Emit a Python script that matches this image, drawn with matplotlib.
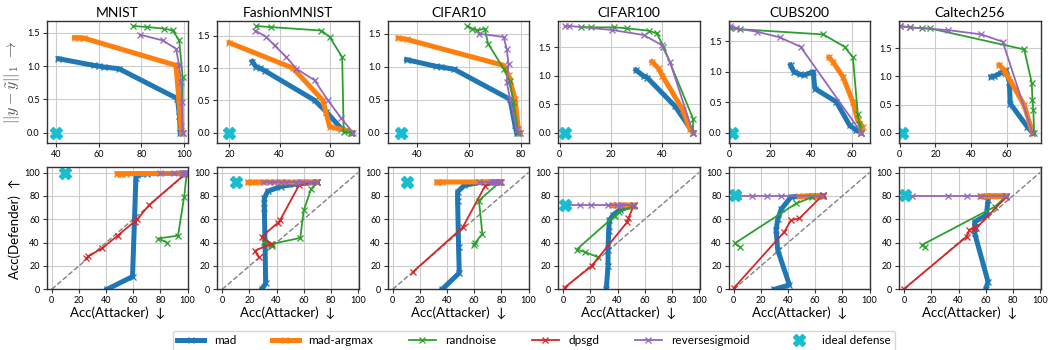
import matplotlib
matplotlib.use('Agg')
import matplotlib.pyplot as plt

plt.rcParams['font.family'] = ['Lato', 'DejaVu Sans']
plt.rcParams['mathtext.fontset'] = 'cm'

datasets = ['MNIST', 'FashionMNIST', 'CIFAR10', 'CIFAR100', 'CUBS200', 'Caltech256']
methods = ['mad', 'mad-argmax', 'randnoise', 'dpsgd', 'reversesigmoid']

# top row: attacker accuracy vs L1 perturbation  (x list, y list)
mnist_top = {
    'mad': ([41.3, 57.7, 60, 62.4, 69.5, 96.9, 97.8, 98.2], [1.11, 1.01, 1.0, 0.985, 0.96, 0.51, 0.25, 0.0]),
    'mad-argmax': ([48.8, 50.5, 53, 96.2, 97.5, 98.5, 98.8], [1.425, 1.425, 1.42, 1.01, 0.51, 0.1, 0.0]),
    'randnoise': ([76.2, 82.8, 90.7, 94.6, 97.7, 99.3, 99.3], [1.60, 1.585, 1.56, 1.535, 1.385, 0.835, 0.0]),
    'reversesigmoid': ([79.4, 89.9, 96.2, 97.7, 98.5, 99.0, 99.3], [1.47, 1.385, 1.26, 1.01, 0.76, 0.46, 0.0]),
}
fashion_top = {
    'mad': ([29.1, 30.7, 32, 34, 54, 58.7, 64.7, 68.7], [1.10, 1.015, 1.0, 0.96, 0.5, 0.32, 0.06, 0.0]),
    'mad-argmax': ([20, 45.3, 57.3, 60, 66.7, 68.7], [1.39, 1.0, 0.5, 0.09, 0.035, 0.0]),
    'randnoise': ([30.7, 36.4, 56.7, 60, 65, 65.6, 68.7], [1.65, 1.634, 1.58, 1.48, 1.17, 0.01, 0.0]),
    'reversesigmoid': ([30.3, 34.7, 38, 42.7, 46.7, 54, 59.3, 64.7, 69.3], [1.58, 1.48, 1.35, 1.17, 0.99, 0.81, 0.5, 0.22, 0.0]),
}
cifar10_top = {
    'mad': ([35.8, 47.2, 49.1, 54.2, 75.8, 77.7, 78.3], [1.106, 1.005, 0.995, 0.96, 0.505, 0.11, 0.0]),
    'mad-argmax': ([32.6, 35.8, 73.3, 75.2, 77.7, 79.0, 79.6], [1.434, 1.414, 1.02, 0.87, 0.515, 0.06, 0.0]),
    'randnoise': ([59.3, 61.2, 63.1, 66, 67.3, 73.3, 75.6, 77.1, 79], [1.616, 1.576, 1.55, 1.576, 1.35, 0.97, 0.79, 0.465, 0.0]),
    'reversesigmoid': ([63.7, 73.3, 74.5, 75.2, 74.5, 75.8, 78.3, 79.6], [1.5, 1.45, 1.27, 1.045, 0.77, 0.515, 0.06, 0.0]),
}
cifar100_top = {
    'mad': ([29.7, 32.7, 34, 44.9, 51.9], [1.1, 0.994, 0.97, 0.465, 0.0]),
    'mad-argmax': ([35.9, 38.5, 40, 48, 50.6, 51.9], [1.247, 1.13, 1.0, 0.394, 0.07, 0.0]),
    'randnoise': ([8.3, 12.2, 21.2, 26.3, 34.6, 37.8, 40.4, 51.9, 51.9], [1.86, 1.853, 1.853, 1.835, 1.794, 1.747, 1.512, 0.247, 0.0]),
    'reversesigmoid': ([1.9, 3.8, 20.5, 32.7, 39.7, 42.9, 51.9], [1.876, 1.876, 1.806, 1.718, 1.541, 1.247, 0.0]),
}
cubs_top = {
    'mad': ([29.9, 31.5, 34.5, 36.4, 41, 41.8, 52.4, 58.9, 62.1, 64.6], [1.11, 1.0, 0.96, 0.945, 1.0, 0.725, 0.505, 0.12, 0.04, 0.0]),
    'mad-argmax': ([48.8, 50.7, 55.6, 60.5, 62.9, 65.4, 64.6], [1.236, 1.165, 0.918, 0.505, 0.2, 0.09, 0.0]),
    'randnoise': ([0.3, 5.2, 45.9, 56.4, 60.5, 62.9, 63.7, 64.6], [1.714, 1.70, 1.615, 1.412, 1.236, 0.313, 0.15, 0.0]),
    'reversesigmoid': ([0.3, 3.3, 13.3, 24.7, 34.8, 64.6], [1.753, 1.714, 1.66, 1.566, 1.412, 0.0]),
}
caltech_top = {
    'mad': ([51.1, 52.9, 56.6, 59.4, 61.3, 61.8, 71.4, 74.2], [0.994, 1.006, 1.065, 1.113, 0.905, 0.518, 0.1, 0.0]),
    'mad-argmax': ([55.7, 58.5, 69.6, 74.2], [1.202, 1.113, 0.488, 0.0]),
    'randnoise': ([0.4, 5.9, 12.4, 17, 69.6, 73.8, 74.2, 74.7, 75.1], [1.899, 1.875, 1.857, 1.857, 1.482, 0.887, 0.577, 0.4, 0.0]),
    'reversesigmoid': ([0.4, 5.9, 27.1, 45.6, 57.6, 74.2], [1.899, 1.875, 1.827, 1.75, 1.619, 0.0]),
}

# bottom row: attacker accuracy vs defender accuracy
mnist_bot = {
    'mad': ([40.75, 59.5, 62, 63, 70, 97, 98.5], [0, 10.9, 95, 98, 99, 99.3, 99.4]),
    'mad-argmax': ([48.3, 50, 52, 55, 96, 98, 98.8], [99, 99, 99, 99.1, 99.3, 99.4, 99.4]),
    'randnoise': ([85, 78.5, 93, 97.5, 99.4], [40, 43.5, 46, 79, 99]),
    'dpsgd': ([25.5, 27, 37, 48.5, 61, 63, 72, 98.5], [26.5, 28.5, 35, 46, 58, 60, 72.5, 99]),
    'reversesigmoid': ([79.5, 90, 96, 97.7, 98.5, 99, 99.3], [99.2, 99.2, 99.3, 99.3, 99.4, 99.4, 99.4]),
}
fashion_bot = {
    'mad': ([29, 32, 31.5, 31, 31, 33.5, 43, 53, 70], [0, 5, 40, 70, 78, 84, 88, 90, 91.8]),
    'mad-argmax': ([19, 21, 23, 28, 45, 57, 60, 67, 69], [91.6, 91.6, 91.7, 91.7, 91.8, 91.8, 91.8, 91.8, 91.8]),
    'randnoise': ([36.5, 31, 37, 57.5, 60, 65.5, 70], [37, 40.5, 39, 44, 67.5, 86, 91.5]),
    'dpsgd': ([27, 24, 36, 29, 41, 42.5, 56.5, 70], [27.5, 33, 39, 45, 57, 59, 89, 92]),
    'reversesigmoid': ([30, 35, 38, 43, 47, 54, 59, 65, 70], [91.8, 91.8, 91.8, 91.8, 91.8, 91.8, 91.8, 91.8, 91.8]),
}
cifar10_bot = {
    'mad': ([36.4, 49, 48.5, 47.8, 47.8, 52.7, 63.6, 78], [0, 14, 36, 76, 83.5, 89, 91.5, 92]),
    'mad-argmax': ([32.5, 34, 36, 73, 75, 77.7, 79.6], [91.8, 91.8, 91.9, 92, 92, 92, 92]),
    'randnoise': ([60.5, 59.5, 66, 63.5, 79], [39.5, 38, 47.5, 76, 92]),
    'dpsgd': ([15, 51.5, 68, 78], [15, 53, 88.5, 92]),
    'reversesigmoid': ([63.7, 73.3, 74.5, 75.2, 75.8, 78.3, 79.6], [92, 92, 92, 92, 92, 92, 92]),
}
cifar100_bot = {
    'mad': ([31.7, 33, 33, 33.5, 34, 36.6, 41.5, 51], [0, 20, 33.6, 50, 59, 63.5, 68, 71.5]),
    'mad-argmax': ([35.9, 38.5, 40, 45, 48, 50.6, 51.9], [71.8, 71.8, 71.9, 72, 72, 72, 72]),
    'randnoise': ([25.6, 15.8, 9.8, 37.8, 41, 52], [27.6, 32, 34, 62.7, 66, 71.5]),
    'dpsgd': ([1, 21, 47, 48, 52], [1.5, 20, 57.5, 61, 72]),
    'reversesigmoid': ([1.9, 3.8, 12, 20.5, 32.7, 39.7, 42.9, 51.9], [72, 72, 72, 72, 72, 72, 72, 72]),
}
cubs_bot = {
    'mad': ([30, 41, 32.4, 31.2, 32.4, 34.9, 42.2, 58, 66], [0, 3.7, 33.6, 50.7, 60, 68.4, 79.2, 80, 80]),
    'mad-argmax': ([48.3, 50.7, 55.6, 60.5, 62.9, 65.4], [80, 80, 80, 80, 80, 80]),
    'randnoise': ([4.4, 0.7, 45.9, 58, 65.4], [36.5, 39.3, 73.5, 79, 80.5]),
    'dpsgd': ([0, 37.3, 42.2, 48.3, 65.4], [1, 49.3, 59.3, 60.7, 80.5]),
    'reversesigmoid': ([0.3, 3.3, 13.3, 24.7, 34.8, 65], [80, 80, 80, 80, 80, 80]),
}
caltech_bot = {
    'mad': ([60, 61.7, 51.9, 51.9, 60.5, 61.7, 61, 75], [0, 6.6, 47.9, 57.8, 63.5, 76.3, 80, 80]),
    'mad-argmax': ([55.7, 58.5, 65, 69.6, 74.2], [80, 80, 80, 80, 80]),
    'randnoise': ([15.4, 12.9, 66.6, 75], [36.5, 37.9, 70.7, 79.5]),
    'dpsgd': ([0, 45.9, 48, 52, 53.2, 75], [0.5, 45, 51, 53, 52.5, 79]),
    'reversesigmoid': ([0.4, 5.9, 32.4, 45.9, 56.8, 75], [80, 80, 80, 80, 80, 80]),
}

ideal_top_x = [40, 20, 33.5, 1.9, 1.1, 1.3]
ideal_bot_x = [10, 10.5, 10.7, 1.2, 0.7, 0.7]
ideal_bot_y = [99.5, 91.8, 92, 72, 80.5, 80.5]

top_xlims = [(35.8, 101.9), (15.1, 71.6), (28.5, 83.2), (-0.6, 54.5), (-0.5, 69), (-0.2, 78.8)]
top_xticks = [[40, 60, 80, 100], [20, 40, 60], [40, 60, 80], [0, 20, 40], [0, 20, 40, 60], [0, 20, 40, 60]]

tops = [mnist_top, fashion_top, cifar10_top, cifar100_top, cubs_top, caltech_top]
bots = [mnist_bot, fashion_bot, cifar10_bot, cifar100_bot, cubs_bot, caltech_bot]

styles = {
    'mad': dict(color='#1f77b4', lw=3.6, marker='x', ms=4, mew=0.9),
    'mad-argmax': dict(color='#ff7f0e', lw=3.6, marker='x', ms=4, mew=0.9),
    'randnoise': dict(color='#2ca02c', lw=1.3, marker='x', ms=4.5, mew=0.9),
    'dpsgd': dict(color='#d62728', lw=1.3, marker='x', ms=4.5, mew=0.9),
    'reversesigmoid': dict(color='#9467bd', lw=1.3, marker='x', ms=4.5, mew=0.9),
}
ideal_style = dict(color='#17becf', marker='X', ms=8.5, ls='none')

W, H = 1049, 350
fig = plt.figure(figsize=(W / 100, H / 100), dpi=100)


def style_ax(ax):
    ax.grid(True, color='#cccccc', lw=0.8)
    ax.set_axisbelow(True)
    for s in ax.spines.values():
        s.set_color('#333333')
        s.set_linewidth(1.0)
    ax.tick_params(labelsize=6.5, length=3, width=0.8, color='#333333', pad=2)


left0, width, step = 46.7 / W, 141.5 / W, 170.5 / W
for c, name in enumerate(datasets):
    # top row
    ax = fig.add_axes([left0 + c * step, 1 - 143.3 / H, width, 122.6 / H])
    style_ax(ax)
    ymax = 0
    for m in methods:
        if m in tops[c]:
            x, y = tops[c][m]
            ax.plot(x, y, label=m, **styles[m])
            ymax = max(ymax, max(y))
    ax.plot([ideal_top_x[c]], [0], **ideal_style)
    ax.set_xlim(*top_xlims[c])
    ax.set_ylim(-0.1 * ymax, 1.05 * ymax)
    ax.set_xticks(top_xticks[c])
    ax.set_yticks([0.0, 0.5, 1.0, 1.5])
    ax.set_yticklabels(['0.0', '0.5', '1.0', '1.5'])
    ax.set_title(name, fontsize=10, pad=3)
    if c == 0:
        ax.set_ylabel(r'$||y - \tilde{y}||_1\ \rightarrow$', fontsize=11.5, color='#555555', labelpad=4)

    # bottom row
    ax = fig.add_axes([left0 + c * step, 1 - 289.3 / H, width, 122 / H])
    style_ax(ax)
    ax.plot([0, 100], [0, 100], color='gray', ls='--', lw=1.0, zorder=1)
    handles = []
    for m in methods:
        x, y = bots[c][m]
        h, = ax.plot(x, y, label=m, **styles[m])
        handles.append(h)
    h, = ax.plot([ideal_bot_x[c]], [ideal_bot_y[c]], label='ideal defense', **ideal_style)
    handles.append(h)
    ax.set_xlim(-3.7, 100.5)
    ax.set_ylim(0, 104.5)
    ax.set_xticks([0, 20, 40, 60, 80, 100])
    ax.set_yticks([0, 20, 40, 60, 80, 100])
    ax.set_xlabel('Acc(Attacker)  \u2193', fontsize=9.5, labelpad=1)
    if c == 0:
        ax.set_ylabel('Acc(Defender)  \u2191', fontsize=9.5, labelpad=2)

leg = fig.legend(handles, [h.get_label() for h in handles], loc='lower center',
                 bbox_to_anchor=(0.509, -0.01), ncol=6, fontsize=8.5, frameon=True,
                 columnspacing=3.0, handlelength=2.3, borderaxespad=0.2)
leg.get_frame().set_edgecolor('#cccccc')

fig.savefig('out.png', dpi=100)
